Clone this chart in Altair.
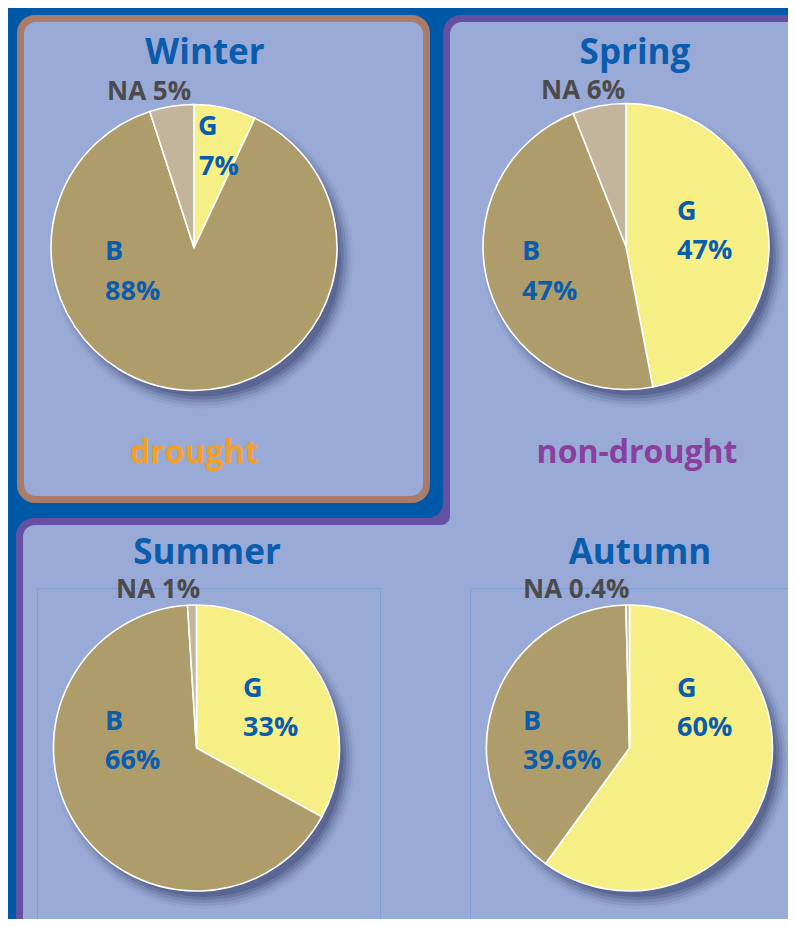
import altair as alt
import pandas as pd

# ---------------- data ----------------
seasons = ["Winter", "Spring", "Summer", "Autumn"]
categories = ["G", "B", "NA"]
g_pct = [7, 47, 33, 60]
b_pct = [88, 47, 66, 39.6]
na_pct = [5, 6, 1, 0.4]
regimes = ["drought", "non-drought"]

cat_colors = ["#f6ef86", "#ae9c6b", "#c3b59b"]


def fmt(v):
    return f"{v:g}%"


rows = []
for i, s in enumerate(seasons):
    for j, (c, v) in enumerate(zip(categories, [g_pct[i], b_pct[i], na_pct[i]])):
        rows.append({"season": s, "cat": c, "value": v, "ord": j})
df = pd.DataFrame(rows)

# ---------------- layout ----------------
W, H = 780, 911
OFF = 8
R = 143


def px(v):
    return v - OFF


one = alt.Data(values=[{"k": 1}])

BG = "#0058a8"
PANEL = "#99aad6"
BROWN = "#a97b6b"
PURPLE = "#6550a2"
BLUE_TXT = "#0a5cad"
GRAY_TXT = "#4b4b4b"


def box(x1, y1, x2, y2, color, r=0):
    return alt.Chart(one).mark_rect(color=color, cornerRadius=r).encode(
        x=alt.value(px(x1)), x2=alt.value(px(x2)),
        y=alt.value(px(y1)), y2=alt.value(px(y2)))


def outline(x1, y1, x2, y2, color):
    return alt.Chart(one).mark_rect(fillOpacity=0, stroke=color, strokeWidth=1).encode(
        x=alt.value(px(x1)), x2=alt.value(px(x2)),
        y=alt.value(px(y1)), y2=alt.value(px(y2)))


def txt(s, x, y, size, color, align="left"):
    return alt.Chart(one).mark_text(
        text=s, font="Open Sans", fontWeight="bold", fontSize=size,
        color=color, align=align, baseline="alphabetic").encode(
        x=alt.value(px(x)), y=alt.value(px(y)))


layers = []
# purple L-shaped "non-drought" region
layers += [
    box(443, 15, 820, 545, PURPLE, 18),
    box(16, 518, 820, 960, PURPLE, 18),
    box(450, 22, 820, 545, PANEL, 12),
    box(23, 525, 820, 960, PANEL, 12),
    box(440, 510, 470, 540, PANEL),
    box(40, 40, 450, 525, PURPLE, 9),
    box(-20, -20, 443, 518, BG, 15),
]
# winter "drought" panel
layers += [
    box(17, 15, 430, 503, BROWN, 18),
    box(24, 22, 423, 496, PANEL, 12),
]
# thin plot-area outlines (summer / autumn)
layers += [
    outline(37.5, 588.5, 380.5, 960, "#7d9fdc"),
    outline(470.5, 588.5, 820, 960, "#7d9fdc"),
]

pie_pos = {
    "Winter": (194, 247.5),
    "Spring": (626, 246.5),
    "Summer": (196.5, 748),
    "Autumn": (629.5, 748),
}

# shadows (soft, towards bottom-right)
for s in seasons:
    cx, cy = pie_pos[s]
    for dr, op in [(8, 0.06), (5, 0.09), (2, 0.13), (-1, 0.18), (-4, 0.22)]:
        layers.append(
            alt.Chart(one).mark_arc(theta=0, theta2=6.2832, radius=R + dr,
                                    color="#232b58", opacity=op).encode(
                x=alt.value(px(cx + 8)), y=alt.value(px(cy + 10))))

# pies
for s in seasons:
    cx, cy = pie_pos[s]
    layers.append(
        alt.Chart(df).transform_filter(alt.datum.season == s).mark_arc(
            radius=R, stroke="white", strokeWidth=1.6).encode(
            theta=alt.Theta("value:Q", stack=True),
            color=alt.Color("cat:N", scale=alt.Scale(domain=categories, range=cat_colors),
                            legend=None),
            order=alt.Order("ord:Q"),
            x=alt.value(px(cx)), y=alt.value(px(cy))))

# text positions (reference pixel coordinates)
text_pos = {
    "Winter": dict(title=(205, 64), na=(107, 100), g=(198, 135), gp=(199, 175), b=(105, 260), bp=(105, 300)),
    "Spring": dict(title=(635, 64), na=(541, 99), g=(677, 220), gp=(677, 259), b=(522, 260), bp=(522, 300)),
    "Summer": dict(title=(207, 564), na=(116, 598), g=(243, 697), gp=(243, 736), b=(105, 730), bp=(105, 769)),
    "Autumn": dict(title=(640, 564), na=(523, 598), g=(677, 697), gp=(677, 736), b=(523, 730), bp=(523, 769)),
}

for i, s in enumerate(seasons):
    p = text_pos[s]
    layers.append(txt(s, *p["title"], 35, BLUE_TXT, "center"))
    layers.append(txt(f"{categories[2]} {fmt(na_pct[i])}", *p["na"], 26, GRAY_TXT))
    layers.append(txt(categories[0], *p["g"], 27, BLUE_TXT))
    layers.append(txt(fmt(g_pct[i]), *p["gp"], 27, BLUE_TXT))
    layers.append(txt(categories[1], *p["b"], 27, BLUE_TXT))
    layers.append(txt(fmt(b_pct[i]), *p["bp"], 27, BLUE_TXT))

layers.append(txt(regimes[0], 194, 463, 32, "#f0a02a", "center"))
layers.append(txt(regimes[1], 637, 463, 32, "#8a3f9e", "center"))

chart = alt.layer(*layers).properties(
    width=W, height=H, background=BG, padding=0,
    autosize=alt.AutoSizeParams(type="none"),
).configure_view(strokeWidth=0)

chart.save("out.html", embed_options={"renderer": "svg", "actions": False})
